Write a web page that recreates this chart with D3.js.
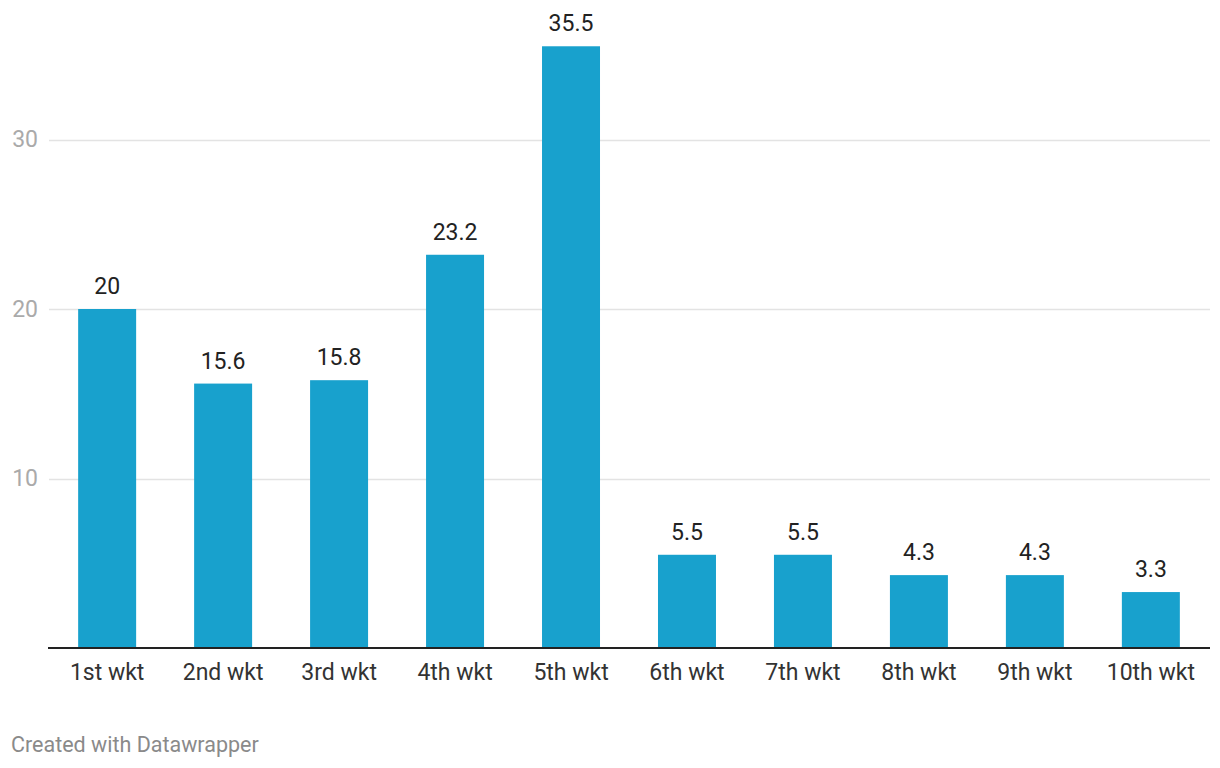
<!DOCTYPE html>
<html>
<head>
<meta charset="utf-8">
<script src="https://cdn.jsdelivr.net/npm/d3@7"></script>
<style>
  html, body { margin: 0; padding: 0; background: #fff; }
  svg { display: block; font-family: Roboto, "Noto Sans", sans-serif; }
</style>
</head>
<body>
<svg id="chart" width="1220" height="768"></svg>
<script>
const categories = ["1st wkt","2nd wkt","3rd wkt","4th wkt","5th wkt","6th wkt","7th wkt","8th wkt","9th wkt","10th wkt"];
const values = [20, 15.6, 15.8, 23.2, 35.5, 5.5, 5.5, 4.3, 4.3, 3.3];
const valueLabels = ["20","15.6","15.8","23.2","35.5","5.5","5.5","4.3","4.3","3.3"];
const yTicks = [10, 20, 30];

const svg = d3.select("#chart");
const left = 48, right = 1210, baseY = 648, topY = 139.5;

const x = d3.scaleBand().domain(categories).range([left, right]).paddingInner(0.5).paddingOuter(0.26);
const y = d3.scaleLinear().domain([0, 30]).range([baseY, topY]);

// gridlines
svg.append("g").selectAll("line").data(yTicks).join("line")
  .attr("x1", 49).attr("x2", right)
  .attr("y1", d => Math.round(y(d)) + 0.5).attr("y2", d => Math.round(y(d)) + 0.5)
  .attr("stroke", "#e3e3e3").attr("stroke-width", 1.5);

// y tick labels
svg.append("g").selectAll("text").data(yTicks).join("text")
  .attr("x", 38).attr("y", d => y(d))
  .attr("text-anchor", "end").attr("dominant-baseline", "central")
  .attr("fill", "#aaaaaa").attr("font-size", 23)
  .text(d => d);

// bars
svg.append("g").selectAll("rect").data(values).join("rect")
  .attr("x", (d, i) => x(categories[i]))
  .attr("width", x.bandwidth())
  .attr("y", d => y(d))
  .attr("height", d => baseY - y(d))
  .attr("fill", "#18a1cd");

// value labels
svg.append("g").selectAll("text").data(values).join("text")
  .attr("x", (d, i) => x(categories[i]) + x.bandwidth() / 2)
  .attr("y", d => y(d) - 15)
  .attr("text-anchor", "middle")
  .attr("fill", "#222").attr("font-size", 23)
  .text((d, i) => valueLabels[i]);

// x axis
const xAxis = d3.axisBottom(x).tickSize(0).tickPadding(0);
const gx = svg.append("g").attr("transform", `translate(0,${baseY})`).call(xAxis);
gx.select(".domain").attr("stroke", "#222").attr("stroke-width", 2).attr("d", `M${left},0H${right}`);
gx.selectAll("text")
  .attr("y", 24).attr("dy", "0.35em")
  .attr("fill", "#333").attr("font-size", 23)
  .attr("font-family", "Roboto, 'Noto Sans', sans-serif");

// footer
svg.append("text").attr("x", 11).attr("y", 752)
  .attr("fill", "#8a8a8a").attr("font-size", 21.5)
  .text("Created with Datawrapper");
</script>
</body>
</html>
